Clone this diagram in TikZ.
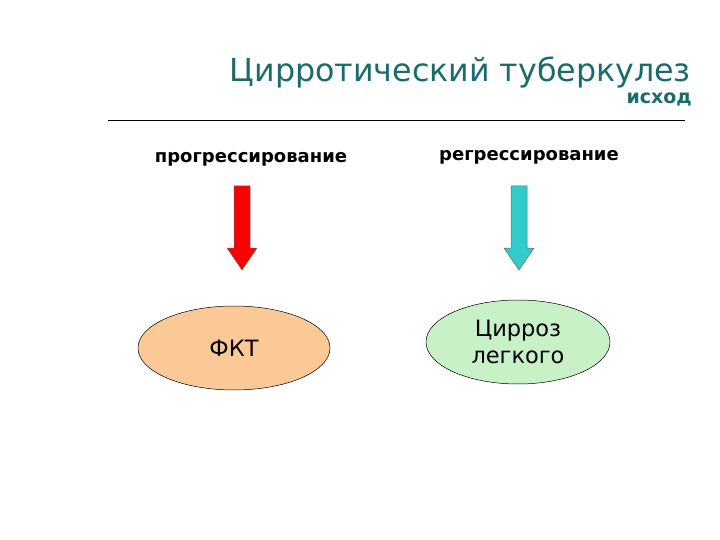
\documentclass[tikz,border=0pt]{standalone}
\usepackage{fontspec}
\setmainfont{DejaVu Sans}
\usetikzlibrary{shapes.geometric}
\definecolor{titleteal}{HTML}{1A6B6B}
\definecolor{peach}{HTML}{FBC996}
\definecolor{palegreen}{HTML}{C9F1C8}
\definecolor{arrred}{HTML}{FF0000}
\definecolor{arrcyan}{HTML}{33CCCC}
\tikzset{
  lbl/.style={font=\bfseries\fontsize{18}{21}\selectfont, inner sep=0pt},
  oval/.style={ellipse, draw=black, line width=0.5pt, inner sep=0pt, align=center,
     font=\fontsize{22.5}{27}\selectfont},
  blockarrow/.style={draw=black!60, line width=0.5pt}
}
\begin{document}
\begin{tikzpicture}[x=1pt,y=-1pt]
\useasboundingbox (0,0) rectangle (720,540);
\node[anchor=base east, text=titleteal, font=\fontsize{31.7}{38}\selectfont, inner sep=0pt] (title) at (691,82) {Цирротический туберкулез};
\node[anchor=base east, text=titleteal, font=\bfseries\fontsize{19}{22}\selectfont, inner sep=0pt] (outcome) at (692,104) {исход};
\coordinate (hl) at (108,120);
\coordinate (hr) at (685,120);
\draw[line width=0.6pt] (hl) -- (hr);
\node[lbl, anchor=base] (prog) at (251,163) {прогрессирование};
\node[lbl, anchor=base] (regr) at (529,161) {регрессирование};
% arrows
\coordinate (a1) at (242,186);
\coordinate (a2) at (519,186);
\foreach \c/\col in {a1/arrred, a2/arrcyan}{
  \filldraw[fill=\col, blockarrow] ([xshift=-8pt]\c) -- ([xshift=8pt]\c) -- ([xshift=8pt,yshift=-62pt]\c) -- ([xshift=15pt,yshift=-62pt]\c)
     -- ([yshift=-84pt]\c) -- ([xshift=-15pt,yshift=-62pt]\c) -- ([xshift=-8pt,yshift=-62pt]\c) -- cycle;
}
\node[oval, fill=peach, minimum width=192pt, minimum height=84pt] (fkt) at (234,348) {ФКТ};
\node[oval, fill=palegreen, minimum width=184pt, minimum height=84pt] (cirr) at (518,342) {Цирроз\\легкого};
\end{tikzpicture}
\end{document}
